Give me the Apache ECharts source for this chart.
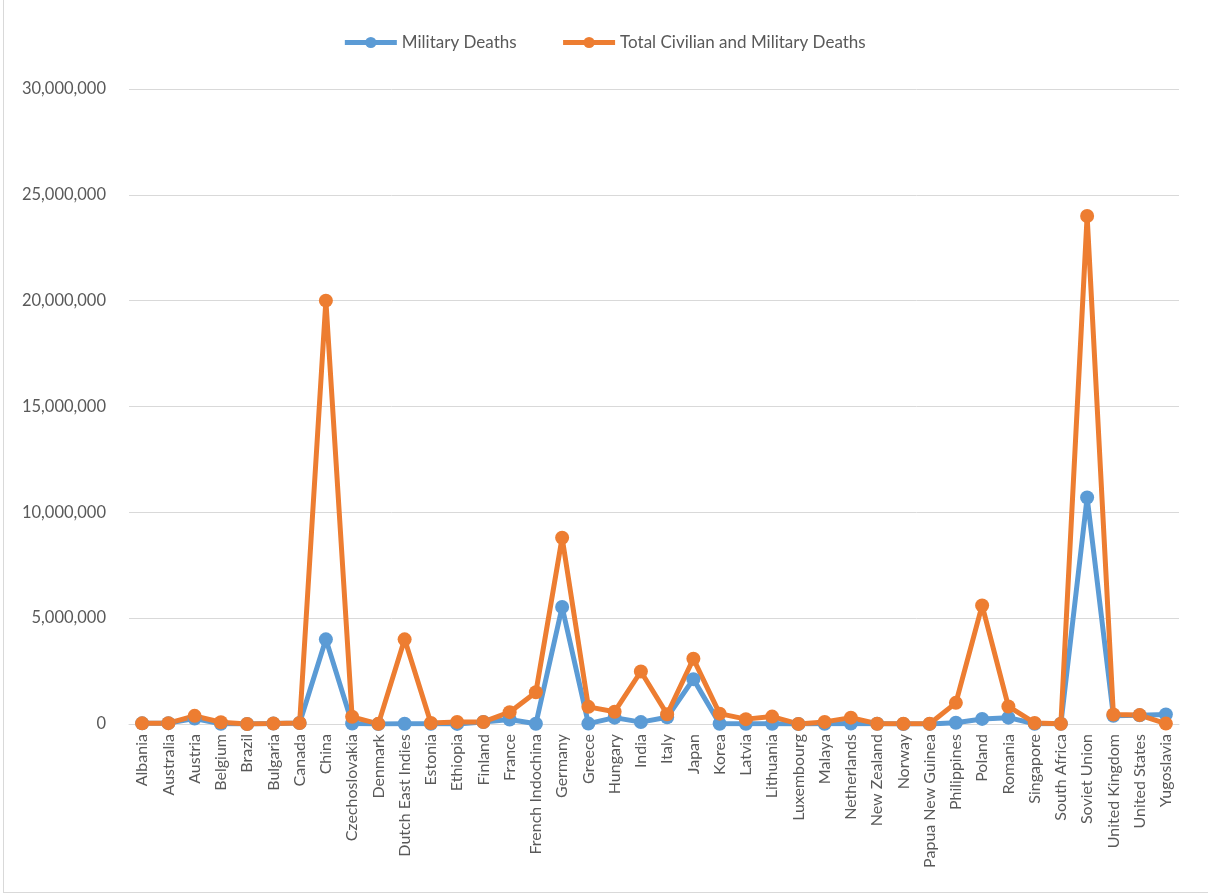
<!DOCTYPE html>
<html>
<head>
<meta charset="utf-8">
<script src="https://cdn.jsdelivr.net/npm/echarts@6/dist/echarts.min.js"></script>
<style>
html,body{margin:0;padding:0;background:#fff;}
#frame{position:absolute;left:3px;top:-1px;width:1210px;height:894px;border:1px solid #d9d9d9;box-sizing:border-box;}
#chart{position:absolute;left:0;top:0;width:1208px;height:895px;}
</style>
</head>
<body>
<div id="frame"></div>
<div id="chart"></div>
<script>
const categories = ["Albania","Australia","Austria","Belgium","Brazil","Bulgaria","Canada","China","Czechoslovakia","Denmark","Dutch East Indies","Estonia","Ethiopia","Finland","France","French Indochina","Germany","Greece","Hungary","India","Italy","Japan","Korea","Latvia","Lithuania","Luxembourg","Malaya","Netherlands","New Zealand","Norway","Papua New Guinea","Philippines","Poland","Romania","Singapore","South Africa","Soviet Union","United Kingdom","United States","Yugoslavia"];
const militaryDeaths = [30000,40000,260000,12000,1000,20000,45000,4000000,25000,3000,10000,10000,5000,95000,210000,10000,5530000,20000,300000,90000,320000,2120000,10000,10000,10000,2000,10000,20000,12000,3000,5000,60000,240000,300000,10000,12000,10700000,390000,410000,450000];
const totalDeaths = [30000,40000,385000,85000,2000,22000,45000,20000000,340000,6000,4000000,50000,100000,97000,560000,1500000,8800000,810000,580000,2480000,460000,3080000,490000,230000,350000,5000,100000,300000,12000,10000,15000,1000000,5600000,830000,50000,12000,24000000,450000,420000,20000];
const yTicks = {min:0, max:30000000, interval:5000000};

const chart = echarts.init(document.getElementById('chart'));
const font = 'Lato, "Liberation Sans", sans-serif';
chart.setOption({
  animation:false,
  textStyle:{fontFamily:font},
  legend:{
    top:29, left:'center', itemGap:44, itemWidth:52, itemHeight:14,
    lineStyle:{width:5},
    textStyle:{color:'#595959', fontSize:17, fontFamily:font},
    data:['Military Deaths','Total Civilian and Military Deaths']
  },
  grid:{left:129, right:29, top:89, bottom:171, containLabel:false},
  xAxis:{
    type:'category', data:categories, boundaryGap:true,
    axisLine:{lineStyle:{color:'#d9d9d9', width:1}},
    axisTick:{show:false},
    axisLabel:{rotate:90, interval:0, color:'#595959', fontSize:16, fontFamily:font, margin:10}
  },
  yAxis:{
    type:'value', min:yTicks.min, max:yTicks.max, interval:yTicks.interval,
    axisLine:{show:false}, axisTick:{show:false},
    splitLine:{lineStyle:{color:'#d9d9d9', width:1}},
    axisLabel:{color:'#595959', fontSize:16.5, fontFamily:font, margin:23,
      formatter:v=>v.toLocaleString('en-US')}
  },
  series:[
    {name:'Military Deaths', type:'line', data:militaryDeaths,
     symbol:'circle', symbolSize:14,
     lineStyle:{color:'#5B9BD5', width:5}, itemStyle:{color:'#5B9BD5'}},
    {name:'Total Civilian and Military Deaths', type:'line', data:totalDeaths,
     symbol:'circle', symbolSize:14,
     lineStyle:{color:'#ED7D31', width:5}, itemStyle:{color:'#ED7D31'}}
  ]
});
</script>
</body>
</html>
